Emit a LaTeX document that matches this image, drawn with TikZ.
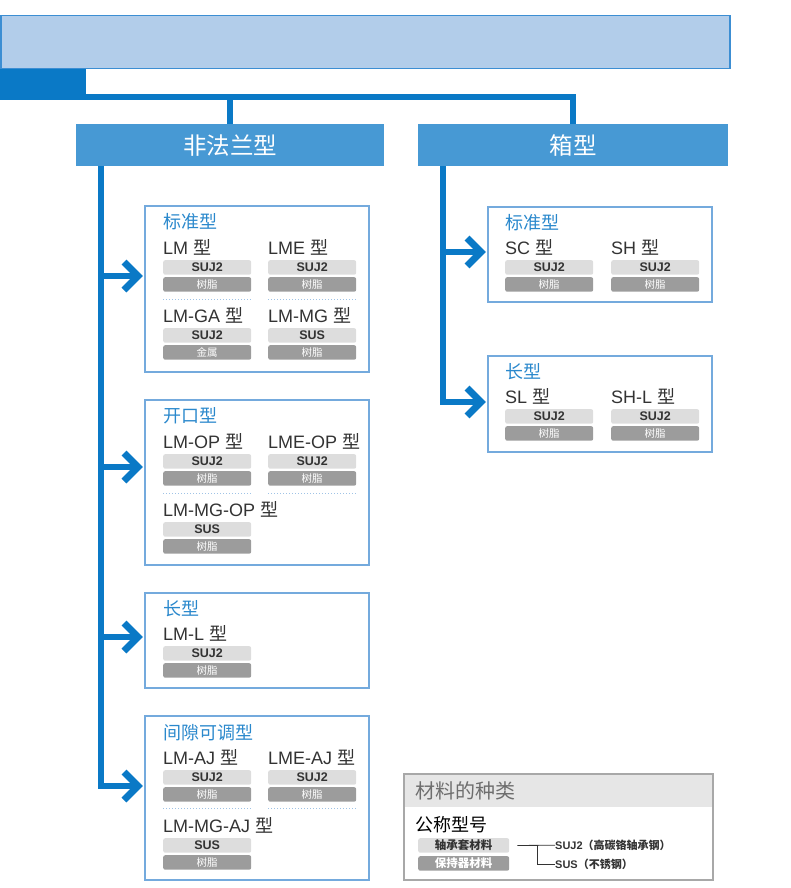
\documentclass[tikz,border=0pt]{standalone}
\usepackage{fontspec}
\setmainfont{Liberation Sans}
\newfontfamily\cjk{Noto Sans CJK SC}
\definecolor{hdrfill}{HTML}{B2CDEA}
\definecolor{hdrborder}{HTML}{3C8ED3}
\definecolor{dkblue}{HTML}{0A79C6}
\definecolor{catfill}{HTML}{4799D4}
\definecolor{boxborder}{HTML}{74AADD}
\definecolor{titleblue}{HTML}{2A88CC}
\definecolor{pilllight}{HTML}{DDDDDD}
\definecolor{pilldark}{HTML}{9C9C9C}
\definecolor{dotblue}{HTML}{9FC3E6}
\definecolor{leggray}{HTML}{A8A8A8}
\definecolor{leghdr}{HTML}{E6E6E6}
\definecolor{legtxt}{HTML}{6E6E6E}
\definecolor{txt}{HTML}{333333}
\newcommand\mtype[6]{%
  \node[mlabel] (#1l) at (#2,#3-6) {#4};
  \node[pillA] (#1a) at (#2,#3) {#5};
  \node[pillB] (#1b) at (#2,#3+17) {#6};
}
\begin{document}
\begin{tikzpicture}[x=1pt,y=-1pt,
  conn/.style={draw=dkblue, line width=6.5pt, line join=miter},
  chev/.style={draw=dkblue, line width=6.8pt, line join=miter, miter limit=4},
  grp/.style={draw=boxborder, line width=1.6pt, anchor=north west, minimum width=224pt, inner sep=0pt, outer sep=0pt},
  grptitle/.style={anchor=base west, text=titleblue, font=\cjk\fontsize{18}{18}\selectfont, inner sep=0pt},
  mlabel/.style={anchor=base west, inner sep=0pt, font=\fontsize{18}{18}\selectfont, text=txt},
  pillA/.style={fill=pilllight, rounded corners=2pt, anchor=north west, minimum width=88pt, minimum height=14.5pt, inner sep=0pt, font=\bfseries\fontsize{12.5}{12.5}\selectfont, text=txt},
  pillB/.style={fill=pilldark, rounded corners=2pt, anchor=north west, minimum width=88pt, minimum height=14.5pt, inner sep=0pt, font=\cjk\fontsize{10.5}{11}\selectfont, text=white},
  sep/.style={draw=dotblue, dotted, line width=1pt},
  legline/.style={draw=txt, line width=0.8pt},
  cat/.style={fill=catfill, anchor=north west, minimum height=42pt, inner sep=0pt, text=white, font=\cjk\fontsize{23.5}{23.5}\selectfont}
]
\useasboundingbox (0,0) rectangle (790,888);
% header
\node[fill=hdrfill, draw=hdrborder, line width=1.5pt, anchor=north west, minimum width=729pt, minimum height=53pt, inner sep=0pt] (hdr) at (0,15) {};
\node[fill=dkblue, anchor=north west, minimum width=86pt, minimum height=31pt, inner sep=0pt] (blk) at (0,69) {};
% categories
\node[cat, minimum width=308pt] (cat1) at (76,124) {非法兰型};
\node[cat, minimum width=310pt] (cat2) at (418,124) {箱型};
\draw[conn] ([yshift=3.5pt]blk.south east) -| (cat2.north);
\draw[conn] (cat1.north) |- ([yshift=3.5pt]blk.south east);
% left groups
\node[grp, minimum height=166pt] (b1) at (145,206) {};
\node[grp, minimum height=165pt] (b2) at (145,400) {};
\node[grp, minimum height=95pt] (b3) at (145,593) {};
\node[grp, minimum height=164pt] (b4) at (145,716) {};
% right groups
\node[grp, minimum height=95pt] (b5) at (488,207) {};
\node[grp, minimum height=96pt] (b6) at (488,356) {};
% titles
\node[grptitle] (g1) at (163,228) {标准型};
\node[grptitle] (g2) at (163,422) {开口型};
\node[grptitle] (g3) at (163,615) {长型};
\node[grptitle] (g4) at (163,739) {间隙可调型};
\node[grptitle] (g5) at (505,229) {标准型};
\node[grptitle] (g6) at (505,378) {长型};
% box 1
\mtype{m1}{163}{260}{LM {\cjk 型}}{SUJ2}{树脂}
\mtype{m2}{268}{260}{LME {\cjk 型}}{SUJ2}{树脂}
\mtype{m3}{163}{328}{LM-GA {\cjk 型}}{SUJ2}{金属}
\mtype{m4}{268}{328}{LM-MG {\cjk 型}}{SUS}{树脂}
\draw[sep] ([yshift=-8pt]m1b.south west) -- ([yshift=-8pt]m1b.south east);
\draw[sep] ([yshift=-8pt]m2b.south west) -- ([yshift=-8pt]m2b.south east);
% box 2
\mtype{n1}{163}{454}{LM-OP {\cjk 型}}{SUJ2}{树脂}
\mtype{n2}{268}{454}{LME-OP {\cjk 型}}{SUJ2}{树脂}
\mtype{n3}{163}{522}{LM-MG-OP {\cjk 型}}{SUS}{树脂}
\draw[sep] ([yshift=-8pt]n1b.south west) -- ([yshift=-8pt]n1b.south east);
\draw[sep] ([yshift=-8pt]n2b.south west) -- ([yshift=-8pt]n2b.south east);
% box 3
\mtype{p1}{163}{646}{LM-L {\cjk 型}}{SUJ2}{树脂}
% box 4
\mtype{q1}{163}{770}{LM-AJ {\cjk 型}}{SUJ2}{树脂}
\mtype{q2}{268}{770}{LME-AJ {\cjk 型}}{SUJ2}{树脂}
\mtype{q3}{163}{838}{LM-MG-AJ {\cjk 型}}{SUS}{树脂}
\draw[sep] ([yshift=-7pt]q1b.south west) -- ([yshift=-7pt]q1b.south east);
\draw[sep] ([yshift=-7pt]q2b.south west) -- ([yshift=-7pt]q2b.south east);
% box 5
\mtype{r1}{505}{260}{SC {\cjk 型}}{SUJ2}{树脂}
\mtype{r2}{611}{260}{SH {\cjk 型}}{SUJ2}{树脂}
% box 6
\mtype{s1}{505}{409}{SL {\cjk 型}}{SUJ2}{树脂}
\mtype{s2}{611}{409}{SH-L {\cjk 型}}{SUJ2}{树脂}
% trunks and arrows
\coordinate (L0) at ([xshift=25pt]cat1.south west);
\coordinate (R0) at ([xshift=25pt]cat2.south west);
\coordinate (t1) at (138,276);
\coordinate (t2) at (138,467);
\coordinate (t3) at (138,637);
\coordinate (t4) at (138,786);
\coordinate (t5) at (481,252);
\coordinate (t6) at (481,402);
\draw[conn] (L0) |- (t4);
\draw[conn] (L0 |- t1) -- (t1);
\draw[conn] (L0 |- t2) -- (t2);
\draw[conn] (L0 |- t3) -- (t3);
\draw[conn] (R0) |- (t6);
\draw[conn] (R0 |- t5) -- (t5);
\foreach \t in {t1,t2,t3,t4,t5,t6}{
  \draw[chev] ([shift={(-14,-14)}]\t) -- (\t) -- ([shift={(-14,14)}]\t);
}
% legend
\node[fill=leghdr, anchor=north west, minimum width=308pt, minimum height=33pt, inner sep=0pt] (legh) at (403.5,773.5) {};
\node[draw=leggray, line width=1.5pt, anchor=north west, minimum width=309pt, minimum height=106pt, inner sep=0pt] (leg) at (403,773) {};
\node[anchor=base west, inner sep=0pt, text=legtxt, font=\cjk\fontsize{20}{20}\selectfont] (legt) at (415,798) {材料的种类};
\node[anchor=base west, inner sep=0pt, text=black, font=\cjk\fontsize{18}{18}\selectfont] (legn) at (415,831) {公称型号};
\node[pillA, minimum width=91pt, font=\cjk\bfseries\fontsize{11.5}{11.5}\selectfont] (lp1) at (418,838) {轴承套材料};
\node[pillB, minimum width=91pt, font=\cjk\bfseries\fontsize{11.5}{11.5}\selectfont] (lp2) at (418,856) {保持器材料};
\node[anchor=west, inner sep=0pt, text=txt, font=\bfseries\fontsize{11}{11}\selectfont] (ls1) at (555,845.25) {SUJ2{\cjk（高碳铬轴承钢）}};
\node[anchor=west, inner sep=0pt, text=txt, font=\bfseries\fontsize{11}{11}\selectfont] (ls2) at (555,864) {SUS{\cjk（不锈钢）}};
\draw[legline] ([xshift=8pt]lp1.east) -- (ls1.west);
\draw[legline] ([xshift=28pt]lp1.east) |- (ls2.west);
\end{tikzpicture}
\end{document}
